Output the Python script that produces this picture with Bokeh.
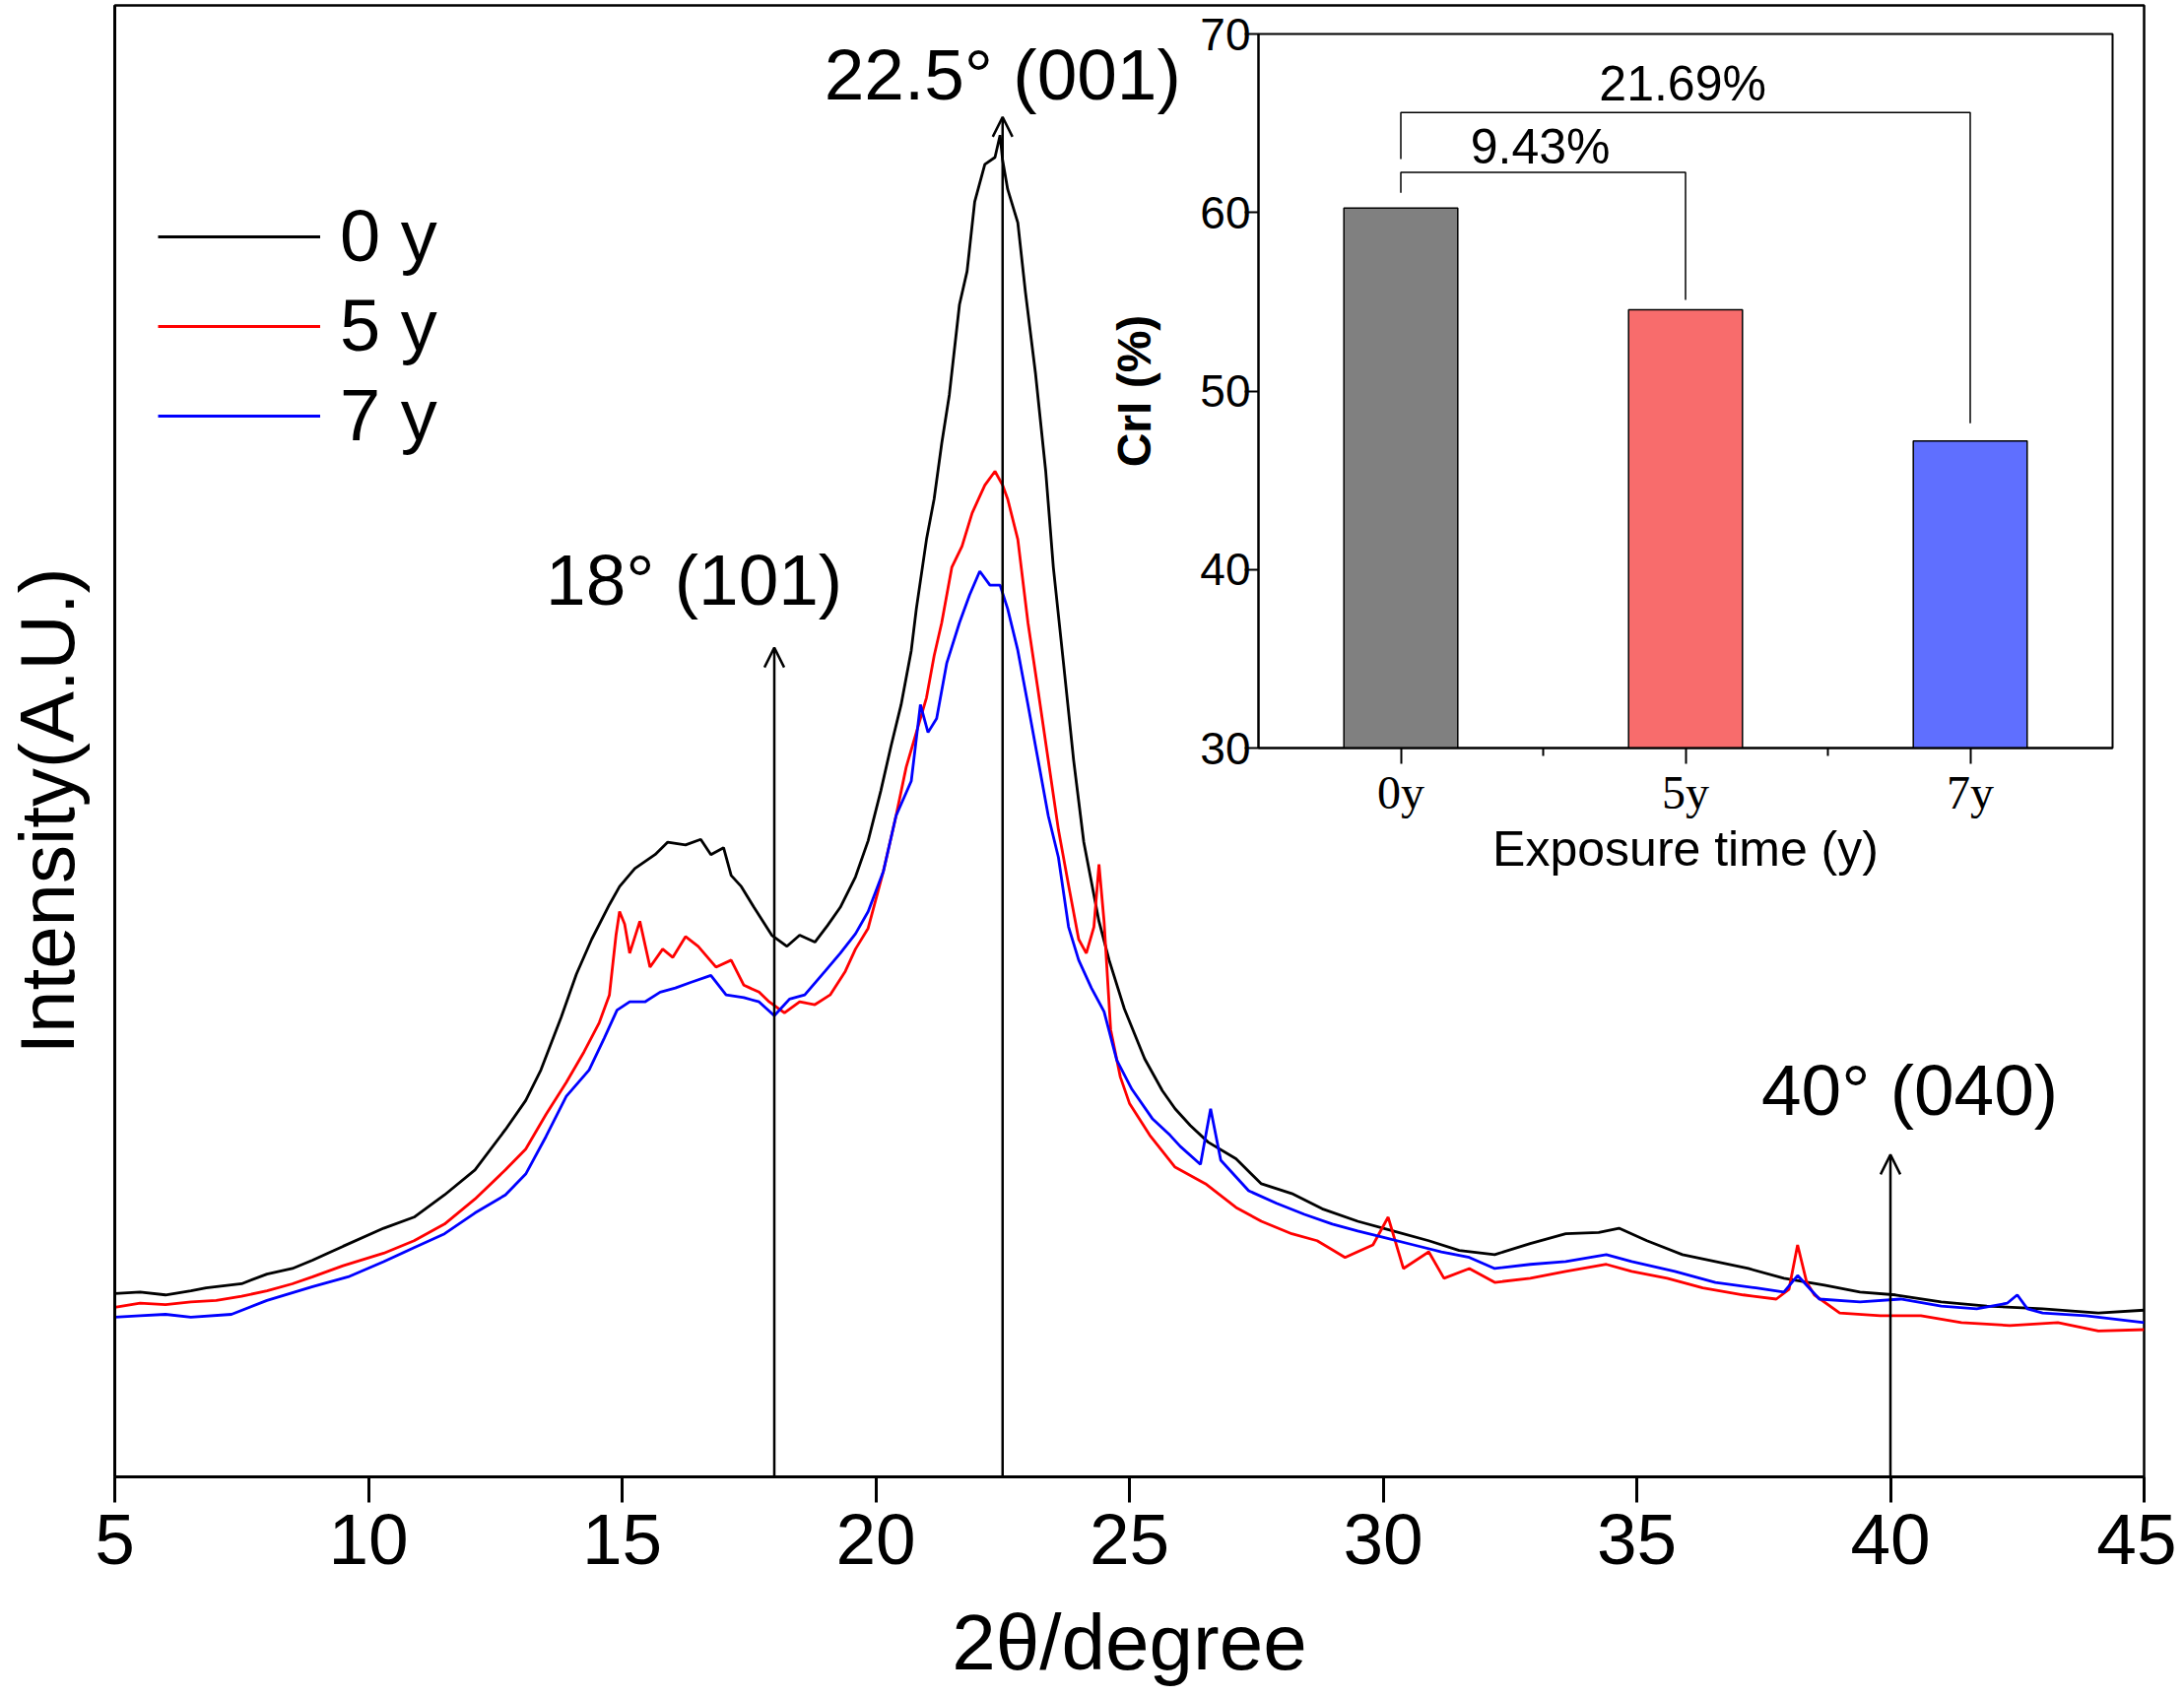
import math
from bokeh.plotting import figure
from bokeh.models import (Range1d, FixedTicker, Label, Arrow, OpenHead, Legend,
                          LegendItem, ColumnDataSource)
from bokeh.embed import file_html
from bokeh.resources import INLINE
from bokeh.core.templates import get_env

# ---------------- data: XRD patterns ----------------
x_0y = [5.0, 5.5, 6.0, 6.5, 6.8, 7.5, 8.0, 8.5, 8.9, 9.5, 10.3, 10.9, 11.5, 12.1, 12.7, 13.1,
        13.4, 13.8, 14.1, 14.4, 14.75, 14.95, 15.25, 15.65, 15.9, 16.25, 16.55, 16.75, 17.0,
        17.15, 17.35, 17.6, 17.95, 18.25, 18.5, 18.8, 19.05, 19.3, 19.6, 19.85, 20.1, 20.3,
        20.5, 20.7, 20.8, 21.0, 21.15, 21.3, 21.45, 21.65, 21.8, 21.95, 22.15, 22.35, 22.45,
        22.5, 22.6, 22.8, 22.95, 23.15, 23.35, 23.5, 23.7, 23.9, 24.1, 24.4, 24.6, 24.9, 25.3,
        25.65, 25.9, 26.2, 26.55, 27.1, 27.6, 28.2, 28.8, 29.5, 30.2, 30.9, 31.5, 32.2, 32.9,
        33.6, 34.25, 34.65, 35.2, 35.9, 36.55, 37.2, 37.9, 38.7, 39.4, 40.1, 41.0, 41.9, 43.0,
        44.1, 45.0]
i_0y = [132, 133, 131, 134, 136, 139, 146, 150, 156, 166, 179, 187, 203, 221, 250, 271,
        293, 331, 362, 387, 412, 425, 438, 448, 457, 455, 459, 448, 453,
        433, 425, 410, 390, 382, 390, 385, 397, 410, 432, 458, 494, 526,
        556, 595, 625, 675, 704, 744, 779, 844, 868, 918, 945, 950, 966,
        948, 927, 903, 853, 794, 724, 655, 586, 516, 457, 400, 372, 337, 301,
        278, 265, 253, 241, 229, 211, 204, 193, 184, 177, 170, 163, 160, 168,
        175, 176, 179, 170, 160, 155, 150, 143, 138, 133, 131, 126, 123, 121,
        118, 120]

x_5y = [5.0, 5.5, 6.0, 6.5, 7.0, 7.5, 8.0, 8.5, 8.9, 9.5, 10.3, 10.9, 11.5, 12.1, 12.7, 13.1,
        13.5, 13.9, 14.25, 14.55, 14.75, 14.88, 14.95, 15.05, 15.15, 15.35, 15.55, 15.8, 16.0,
        16.25, 16.5, 16.85, 17.15, 17.4, 17.7, 17.9, 18.2, 18.5, 18.8, 19.1, 19.4, 19.6, 19.85,
        20.15, 20.4, 20.6, 20.8, 21.0, 21.15, 21.3, 21.5, 21.7, 21.9, 22.15, 22.35, 22.5, 22.6,
        22.8, 23.0, 23.2, 23.4, 23.6, 23.8, 24.0, 24.15, 24.3, 24.4, 24.5, 24.63, 24.82, 25.0,
        25.4, 25.9, 26.5, 27.1, 27.6, 28.2, 28.7, 29.25, 29.8, 30.1, 30.4, 30.9, 31.2, 31.7,
        32.2, 32.9, 33.6, 34.4, 34.9, 35.6, 36.3, 37.1, 37.75, 38.0, 38.17, 38.35, 38.5, 39.0,
        39.8, 40.6, 41.4, 42.35, 43.3, 44.1, 45.0]
i_5y = [122, 125, 124, 126, 127, 130, 134, 139, 144, 152, 161, 170, 182, 200, 221, 236,
        261, 284, 306, 327, 347, 390, 407, 398, 377, 400, 367, 380, 374,
        389, 382, 367, 372, 354, 349, 342, 334, 342, 340, 347, 364, 380, 395,
        436, 476, 511, 536, 561, 591, 615, 655, 670, 694, 714, 724, 714, 704,
        675, 615, 566, 516, 466, 426, 387, 377, 396, 441, 400, 322, 288, 269,
        246, 223, 211, 194, 184, 175, 170, 158, 167, 187, 150, 162, 143, 150,
        140, 143, 148, 153, 148, 143, 136, 131, 128, 135, 167, 140, 131, 118,
        116, 116, 111, 109, 111, 105, 106]

x_7y = [5.0, 5.5, 6.0, 6.5, 7.3, 8.0, 8.9, 9.6, 10.3, 10.9, 11.5, 12.1, 12.7, 13.1, 13.5,
        13.9, 14.35, 14.65, 14.9, 15.15, 15.45, 15.75, 16.05, 16.35, 16.75, 17.05, 17.4, 17.7,
        18.0, 18.3, 18.6, 19.0, 19.3, 19.6, 19.85, 20.15, 20.4, 20.7, 20.88, 21.03, 21.2, 21.4,
        21.65, 21.85, 22.05, 22.25, 22.45, 22.6, 22.8, 23.0, 23.2, 23.4, 23.6, 23.8, 24.0,
        24.25, 24.5, 24.75, 25.05, 25.45, 25.8, 26.0, 26.4, 26.6, 26.8, 27.35, 27.9, 28.45,
        29.0, 29.5, 30.05, 30.6, 31.15, 31.7, 32.2, 32.9, 33.6, 34.4, 34.9, 35.75, 36.55,
        37.35, 37.9, 38.17, 38.6, 39.4, 40.2, 41.0, 41.7, 42.3, 42.5, 42.7, 43.0, 43.85, 45.0]
i_7y = [115, 116, 117, 115, 117, 127, 137, 144, 155, 165, 175, 190, 203, 218, 245,
        274, 293, 316, 336, 342, 342, 349, 352, 356, 361, 347, 345, 342,
        332, 344, 347, 364, 377, 391, 407, 436, 476, 501, 556, 536, 546, 586,
        615, 635, 652, 642, 642, 625, 595, 556, 516, 476, 446, 396, 372,
        352, 335, 300, 279, 258, 246, 238, 225, 265, 228, 206, 197, 189,
        182, 177, 172, 167, 162, 158, 150, 153, 155, 160, 155, 148, 140,
        136, 133, 145, 128, 126, 128, 123, 121, 125, 131, 121, 118, 116, 111]

series_labels = ["0 y", "5 y", "7 y"]
series_colors = ["#000000", "#FF0000", "#0000FF"]

x_ticks = [5, 10, 15, 20, 25, 30, 35, 40, 45]

# peak markers
peak_pos = [18.0, 22.5, 40.0]
peak_tip = [597, 979, 232]
peak_text = ["18° (101)", "22.5° (001)", "40° (040)"]
peak_text_x = [16.42, 22.5, 40.38]
peak_text_y = [646, 1010, 279]

# ---------------- data: inset (crystallinity index) ----------------
categories = ["0y", "5y", "7y"]
cat_pos = [0, 1, 2]
cri = [60.25, 54.55, 47.2]
bar_colors = ["#808080", "#F86C6C", "#5F6FFF"]
cri_ticks = [30, 40, 50, 60, 70]

brk_from = [0, 0]
brk_to = [1, 2]
brk_from_y = [61.1, 63.0]
brk_to_y = [55.1, 48.2]
brk_top = [62.25, 65.6]
pct_labels = ["9.43%", "21.69%"]
pct_x = [0.49, 0.99]
pct_y = [63.7, 67.2]

SANS = "Liberation Sans"
SERIF = "Liberation Serif"

# ================= main figure =================
p = figure(width=2201, height=1711, x_range=Range1d(5, 45), y_range=Range1d(0, 1059.4),
           output_backend="svg", toolbar_location=None, name="main",
           min_border_left=108, min_border_right=33, min_border_top=2, min_border_bottom=211)
p.grid.visible = False
p.outline_line_color = "black"
p.outline_line_width = 2.5
p.background_fill_color = "white"
p.border_fill_color = "white"

xa = p.xaxis[0]
xa.ticker = FixedTicker(ticks=x_ticks, minor_ticks=[])
xa.major_tick_out = 26
xa.major_tick_in = 0
xa.minor_tick_out = 0
xa.minor_tick_in = 0
xa.axis_line_width = 3
xa.major_tick_line_width = 3
xa.major_label_text_font = SANS
xa.major_label_text_font_size = "73px"
xa.major_label_text_color = "black"
xa.major_label_standoff = 12
xa.axis_label = "2θ/degree"
xa.axis_label_text_font = SANS
xa.axis_label_text_font_size = "80px"
xa.axis_label_text_font_style = "normal"
xa.axis_label_text_color = "black"
xa.axis_label_standoff = 32

ya = p.yaxis[0]
ya.ticker = FixedTicker(ticks=[], minor_ticks=[])
ya.major_label_text_font_size = "0px"
ya.major_label_standoff = 0
ya.major_tick_out = 0
ya.minor_tick_out = 0
ya.axis_line_width = 3

renderers = []
for xs_, ys_, col in zip([x_0y, x_5y, x_7y], [i_0y, i_5y, i_7y], series_colors):
    r = p.line(xs_, ys_, line_color=col, line_width=2.8)
    renderers.append(r)

for xp, tip in zip(peak_pos, peak_tip):
    p.add_layout(Arrow(end=OpenHead(size=20, line_width=2.5, line_color="black"),
                       x_start=xp, y_start=0, x_end=xp, y_end=tip,
                       line_width=2.5, line_color="black"))

for t, tx, ty in zip(peak_text, peak_text_x, peak_text_y):
    p.add_layout(Label(x=tx, y=ty, text=t, text_align="center", text_baseline="alphabetic",
                       text_font=SANS, text_font_size="73px", text_color="black"))

legend = Legend(items=[LegendItem(label=lab, renderers=[r]) for lab, r in zip(series_labels, renderers)],
                location=(44, 1035), glyph_width=165, glyph_height=40, label_standoff=20,
                spacing=6, padding=0, margin=0, border_line_color=None,
                background_fill_alpha=0, label_text_font=SANS, label_text_font_size="74px",
                label_text_color="black")
p.add_layout(legend)

# ================= y-axis title (placed beside the main plot) =================
ylab = figure(width=94, height=700, x_range=Range1d(0, 1), y_range=Range1d(0, 1),
              output_backend="svg", toolbar_location=None, name="ylab",
              x_axis_location=None, y_axis_location=None,
              min_border_left=0, min_border_right=0, min_border_top=0, min_border_bottom=0,
              background_fill_color=None, border_fill_color=None, outline_line_color=None)
ylab.grid.visible = False
ylab.add_layout(Label(x=0.5, y=0.5, text="Intensity(A.U.)", angle=math.pi / 2,
                      text_align="center", text_baseline="middle",
                      text_font=SANS, text_font_size="78px", text_color="black"))

# ================= inset figure =================
ins = figure(width=1044, height=909, x_range=Range1d(-0.5, 2.5), y_range=Range1d(30, 70),
             output_backend="svg", toolbar_location=None, name="inset",
             min_border_left=157, min_border_right=20, min_border_top=34, min_border_bottom=150,
             background_fill_color=None, border_fill_color=None)
ins.grid.visible = False
ins.outline_line_color = "black"
ins.outline_line_width = 2

src = ColumnDataSource(dict(x=cat_pos, top=cri, color=bar_colors, cat=categories))
ins.vbar(x="x", top="top", bottom=30, width=0.4, fill_color="color", line_color="black",
         line_width=1.5, source=src)

bxs = [[a, a, b, b] for a, b in zip(brk_from, brk_to)]
bys = [[fy, t, t, ty] for fy, t, ty in zip(brk_from_y, brk_top, brk_to_y)]
ins.multi_line(xs=bxs, ys=bys, line_color="black", line_width=1.5)

for t, tx, ty in zip(pct_labels, pct_x, pct_y):
    ins.add_layout(Label(x=tx, y=ty, text=t, text_align="center", text_baseline="alphabetic",
                         text_font=SANS, text_font_size="50px", text_color="black"))

ixa = ins.xaxis[0]
ixa.ticker = FixedTicker(ticks=cat_pos, minor_ticks=[0.5, 1.5])
ixa.major_label_overrides = {c: lab for c, lab in zip(cat_pos, categories)}
ixa.major_tick_out = 16
ixa.major_tick_in = 0
ixa.minor_tick_out = 8
ixa.minor_tick_in = 0
ixa.axis_line_width = 2
ixa.major_tick_line_width = 2
ixa.minor_tick_line_width = 2
ixa.major_label_text_font = SERIF
ixa.major_label_text_font_size = "48px"
ixa.major_label_text_color = "black"
ixa.major_label_standoff = 2
ixa.axis_label = "Exposure time (y)"
ixa.axis_label_text_font = SANS
ixa.axis_label_text_font_size = "50px"
ixa.axis_label_text_font_style = "normal"
ixa.axis_label_text_color = "black"
ixa.axis_label_standoff = 0

iya = ins.yaxis[0]
iya.ticker = FixedTicker(ticks=cri_ticks, minor_ticks=[])
iya.major_tick_out = 14
iya.major_tick_in = 0
iya.minor_tick_out = 0
iya.axis_line_width = 2
iya.major_tick_line_width = 2
iya.major_label_text_font = SANS
iya.major_label_text_font_size = "46px"
iya.major_label_text_color = "black"
iya.major_label_standoff = -6
iya.axis_label = "CrI (%)"
iya.axis_label_text_font = SANS
iya.axis_label_text_font_size = "48px"
iya.axis_label_text_font_style = "bold"
iya.axis_label_text_color = "black"
iya.axis_label_standoff = 37

TEMPLATE = get_env().from_string("""{% extends base %}
{% from macros import embed %}
{% block inner_body %}
<div style="position:absolute;left:8px;top:3px;width:2201px;height:1711px;">
  <div style="position:absolute;left:0px;top:0px;">{{ embed(roots.main) }}</div>
  <div style="position:absolute;left:-8px;top:470px;">{{ embed(roots.ylab) }}</div>
  <div style="position:absolute;left:1112px;top:-3px;">{{ embed(roots.inset) }}</div>
</div>
{{ plot_script | indent(4) }}
{% endblock %}
""")

html = file_html([p, ylab, ins], INLINE, title="XRD", template=TEMPLATE)
open("out.html", "w").write(html)
